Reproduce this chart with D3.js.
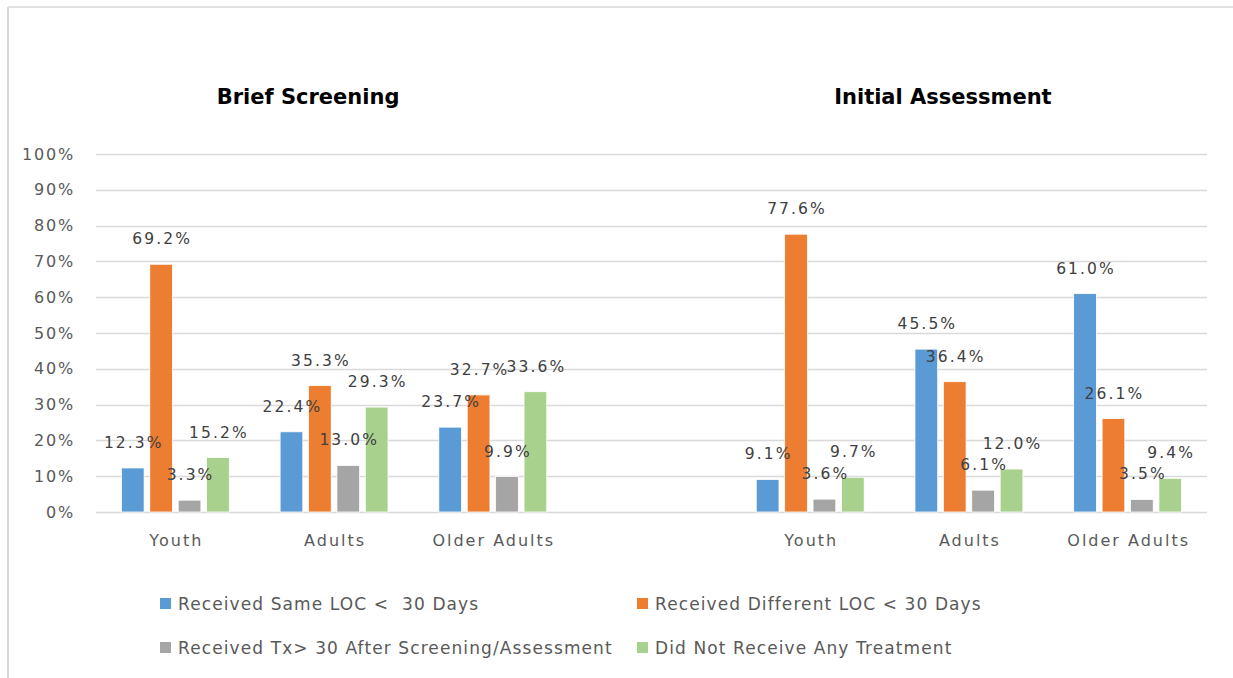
<!DOCTYPE html>
<html>
<head>
<meta charset="utf-8">
<script src="https://cdn.jsdelivr.net/npm/d3@7"></script>
<style>
  html, body { margin: 0; padding: 0; background: #fff; }
  svg { display: block; }
  text { white-space: pre; }
</style>
</head>
<body>
<svg id="chart" width="1233" height="678"></svg>
<script>
// ---- data ----
const panels = ["Brief Screening", "Initial Assessment"];
const categories = ["Youth", "Adults", "Older Adults"];
const seriesNames = [
  "Received Same LOC <  30 Days",
  "Received Different LOC < 30 Days",
  "Received Tx> 30 After Screening/Assessment",
  "Did Not Receive Any Treatment"
];
// values in %, order: Brief (Youth, Adults, Older Adults), Initial (Youth, Adults, Older Adults)
const sameLOC      = [12.3, 22.4, 23.7, 9.1, 45.5, 61.0];
const differentLOC = [69.2, 35.3, 32.7, 77.6, 36.4, 26.1];
const txAfter30    = [3.3, 13.0, 9.9, 3.6, 6.1, 3.5];
const noTreatment  = [15.2, 29.3, 33.6, 9.7, 12.0, 9.4];
const yTicks = [0, 10, 20, 30, 40, 50, 60, 70, 80, 90, 100];
const colors = ["#5b9bd5", "#ed7d31", "#a5a5a5", "#a9d18e"];

const seriesValues = [sameLOC, differentLOC, txAfter30, noTreatment];

// ---- layout ----
const svg = d3.select("#chart");
const plot = { left: 96, right: 1207, top: 154, bottom: 512 };

// chart border (top and left edges visible)
svg.append("line").attr("x1", 8).attr("x2", 1233).attr("y1", 7).attr("y2", 7)
  .attr("stroke", "#d9d9d9").attr("stroke-width", 1.5);
svg.append("line").attr("x1", 8).attr("x2", 8).attr("y1", 7).attr("y2", 678)
  .attr("stroke", "#d9d9d9").attr("stroke-width", 2);

// slots: 3 categories, a gap, 3 categories
const slots = [];
panels.forEach((p, pi) => {
  categories.forEach(c => slots.push({ key: p + "|" + c, panel: p, cat: c }));
  if (pi < panels.length - 1) slots.push({ key: "gap" + pi, panel: null, cat: "" });
});

const x = d3.scaleBand()
  .domain(slots.map(s => s.key))
  .range([plot.left, plot.right])
  .paddingInner(0.32)
  .paddingOuter(0.16);

const xs = d3.scaleBand()
  .domain(d3.range(seriesNames.length))
  .range([0, x.bandwidth()])
  .paddingInner(0.2);

const y = d3.scaleLinear().domain([0, 100]).range([plot.bottom, plot.top]);

const fontFam = "'DejaVu Sans', 'Liberation Sans', sans-serif";

// gridlines
svg.append("g").selectAll("line").data(yTicks).join("line")
  .attr("x1", plot.left).attr("x2", plot.right)
  .attr("y1", d => Math.round(y(d)) + 0.5).attr("y2", d => Math.round(y(d)) + 0.5)
  .attr("stroke", "#d9d9d9").attr("stroke-width", 1.5);

// y axis labels
const yAxis = d3.axisLeft(y).tickValues(yTicks).tickFormat(d => d + "%").tickSize(0).tickPadding(0);
const yg = svg.append("g").attr("transform", `translate(${plot.left - 21},0)`).call(yAxis);
yg.select(".domain").remove();
yg.selectAll("text")
  .attr("fill", "#595959")
  .style("font-family", fontFam)
  .style("font-size", "16px")
  .style("letter-spacing", "1.8px");

// x axis labels
const xAxis = d3.axisBottom(x)
  .tickFormat(k => slots.find(s => s.key === k).cat)
  .tickSize(0).tickPadding(0);
const xg = svg.append("g").attr("transform", `translate(1,${plot.bottom + 23})`).call(xAxis);
xg.select(".domain").remove();
xg.selectAll("text")
  .attr("fill", "#595959")
  .style("font-family", fontFam)
  .style("font-size", "16px")
  .style("letter-spacing", "2px");

// bars
const realSlots = slots.filter(s => s.panel !== null);
const barData = [];
realSlots.forEach((s, i) => {
  seriesValues.forEach((vals, si) => {
    barData.push({ slot: s.key, si, v: vals[i] });
  });
});

svg.append("g").selectAll("rect").data(barData).join("rect")
  .attr("x", d => x(d.slot) + xs(d.si))
  .attr("y", d => y(d.v))
  .attr("width", xs.bandwidth())
  .attr("height", d => y(0) - y(d.v))
  .attr("fill", d => colors[d.si])
  .attr("stroke", "#fff").attr("stroke-width", 0.8);

// data labels
svg.append("g").selectAll("text").data(barData).join("text")
  .attr("x", d => x(d.slot) + xs(d.si) + xs.bandwidth() / 2 + 1)
  .attr("y", d => y(d.v) - 20)
  .attr("text-anchor", "middle")
  .attr("fill", "#404040")
  .style("font-family", fontFam)
  .style("font-size", "15.5px")
  .style("letter-spacing", "2.1px")
  .text(d => d.v.toFixed(1) + "%");

// panel titles
panels.forEach(p => {
  const mid = x(p + "|" + categories[1]) + x.bandwidth() / 2;
  svg.append("text")
    .attr("x", mid - 26)
    .attr("y", 104)
    .attr("text-anchor", "middle")
    .attr("fill", "#000")
    .style("font-family", fontFam)
    .style("font-weight", "bold")
    .style("font-size", "21px")
    .text(p);
});

// legend
const legendPos = [[160, 604], [637, 604], [160, 648], [637, 648]];
const lg = svg.append("g");
seriesNames.forEach((n, i) => {
  const [lx, ly] = legendPos[i];
  lg.append("rect")
    .attr("x", lx).attr("y", ly - 6)
    .attr("width", 11).attr("height", 11)
    .attr("fill", colors[i]);
  lg.append("text")
    .attr("x", lx + 18).attr("y", ly + 6)
    .attr("fill", "#595959")
    .attr("xml:space", "preserve")
    .style("font-family", fontFam)
    .style("font-size", "17px")
    .style("letter-spacing", "1.1px")
    .text(n);
});
</script>
</body>
</html>
